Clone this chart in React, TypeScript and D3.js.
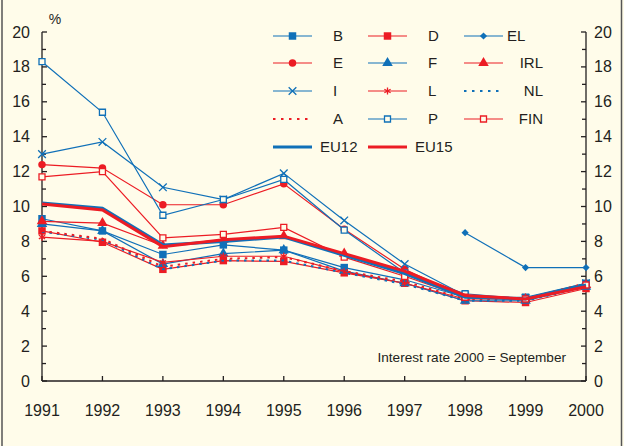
import React, { useRef, useEffect } from 'react';
import * as d3 from 'd3';

const years = ['1991', '1992', '1993', '1994', '1995', '1996', '1997', '1998', '1999', '2000'];
const yTicks = [0, 2, 4, 6, 8, 10, 12, 14, 16, 18, 20];

const B = [9.3, 8.6, 7.25, 7.8, 7.5, 6.5, 5.8, 4.8, 4.8, 5.6];
const D = [8.6, 7.95, 6.4, 6.9, 6.85, 6.2, 5.6, 4.6, 4.5, 5.3];
const EL = [null, null, null, null, null, null, null, 8.5, 6.5, 6.5];
const E = [12.4, 12.2, 10.1, 10.1, 11.3, 8.7, 6.4, 4.8, 4.7, 5.5];
const F = [9.0, 8.6, 6.7, 7.3, 7.5, 6.3, 5.6, 4.6, 4.6, 5.4];
const IRL = [9.15, 9.05, 7.75, 8.1, 8.3, 7.3, 6.3, 4.8, 4.7, 5.5];
const I = [13.0, 13.7, 11.1, 10.4, 11.9, 9.2, 6.7, 4.9, 4.75, 5.6];
const L = [8.25, 8.0, 6.8, 7.15, 7.15, 6.25, 5.6, 4.7, 4.7, 5.5];
const NL = [8.55, 8.1, 6.4, 6.9, 6.9, 6.2, 5.55, 4.6, 4.6, 5.4];
const A = [8.6, 8.15, 6.55, 7.0, 7.1, 6.3, 5.7, 4.7, 4.7, 5.6];
const P = [18.3, 15.4, 9.5, 10.4, 11.55, 8.65, 6.2, 5.0, 4.7, 5.5];
const FIN = [11.7, 12.0, 8.2, 8.4, 8.8, 7.1, 6.0, 4.8, 4.7, 5.5];
const EU12 = [10.2, 9.9, 7.8, 8.0, 8.25, 7.2, 6.15, 4.8, 4.7, 5.5];
const EU15 = [10.15, 9.8, 7.7, 8.1, 8.3, 7.3, 6.3, 4.9, 4.7, 5.4];

const BLUE = '#1070b8';
const RED = '#ec1c24';
const BG = '#fffcea';
const INK = '#231f20';

type Series = { name: string; values: (number | null)[]; color: string; marker?: string; dash?: boolean; thick?: boolean };

const series: Series[] = [
  { name: 'B', values: B, color: BLUE, marker: 'square' },
  { name: 'D', values: D, color: RED, marker: 'square' },
  { name: 'EL', values: EL, color: BLUE, marker: 'diamond' },
  { name: 'E', values: E, color: RED, marker: 'circle' },
  { name: 'F', values: F, color: BLUE, marker: 'triangle' },
  { name: 'IRL', values: IRL, color: RED, marker: 'triangle' },
  { name: 'I', values: I, color: BLUE, marker: 'x' },
  { name: 'L', values: L, color: RED, marker: 'asterisk' },
  { name: 'NL', values: NL, color: BLUE, dash: true },
  { name: 'A', values: A, color: RED, dash: true },
  { name: 'P', values: P, color: BLUE, marker: 'open' },
  { name: 'FIN', values: FIN, color: RED, marker: 'open' },
  { name: 'EU12', values: EU12, color: BLUE, thick: true },
  { name: 'EU15', values: EU15, color: RED, thick: true },
];

const symbolFor = (m: string) => {
  switch (m) {
    case 'square': return d3.symbol(d3.symbolSquare, 56);
    case 'diamond': return d3.symbol(d3.symbolSquare, 26);
    case 'circle': return d3.symbol(d3.symbolCircle, 44);
    case 'triangle': return d3.symbol(d3.symbolTriangle, 48);
    case 'x': return d3.symbol(d3.symbolTimes, 40);
    case 'asterisk': return d3.symbol(d3.symbolAsterisk, 36);
    default: return d3.symbol(d3.symbolSquare, 36);
  }
};

const drawMarker = (g: any, m: string, color: string, x: number, y: number) => {
  const stroked = m === 'x' || m === 'asterisk' || m === 'open';
  g.append('path')
    .attr('d', symbolFor(m)())
    .attr('transform', `translate(${x},${y})` + (m === 'diamond' ? ' rotate(45)' : ''))
    .attr('fill', m === 'open' ? BG : stroked ? 'none' : color)
    .attr('stroke', stroked ? color : 'none')
    .attr('stroke-width', 1.3);
};

const App = () => {
  const svgRef = useRef<SVGSVGElement>(null);

  useEffect(() => {
    const width = 624;
    const height = 446;
    const svg = d3.select(svgRef.current);
    svg.selectAll('*').remove();
    svg.attr('width', width).attr('height', height);

    svg.append('rect').attr('width', width).attr('height', height).attr('fill', BG);
    svg.append('line').attr('x1', 2).attr('x2', 2).attr('y1', 0).attr('y2', height).attr('stroke', '#555').attr('stroke-width', 1.5);
    svg.append('line').attr('x1', 621.5).attr('x2', 621.5).attr('y1', 0).attr('y2', height).attr('stroke', '#555').attr('stroke-width', 1.5);

    const x = d3.scalePoint().domain(years).range([42, 586]);
    const y = d3.scaleLinear().domain([0, 20]).range([381, 32]);
    const font = '"Liberation Sans", Arial, sans-serif';

    // axes
    const ax = svg.append('g').attr('stroke', INK).attr('stroke-width', 1.3);
    ax.append('line').attr('x1', 42).attr('x2', 42).attr('y1', y(20)).attr('y2', y(0));
    ax.append('line').attr('x1', 586).attr('x2', 586).attr('y1', y(20)).attr('y2', y(0));
    ax.append('line').attr('x1', 42).attr('x2', 586).attr('y1', y(0)).attr('y2', y(0));
    d3.range(0, 21).forEach(v => {
      const len = v % 2 === 0 ? 5 : 4;
      ax.append('line').attr('x1', 42).attr('x2', 42 + len).attr('y1', y(v)).attr('y2', y(v));
      ax.append('line').attr('x1', 586).attr('x2', 586 - len).attr('y1', y(v)).attr('y2', y(v));
    });
    years.forEach(yr => {
      ax.append('line').attr('x1', x(yr)!).attr('x2', x(yr)!).attr('y1', y(0)).attr('y2', y(0) - 5);
    });

    const txt = svg.append('g').attr('font-family', font).attr('fill', INK).attr('font-size', 16);
    yTicks.forEach(v => {
      txt.append('text').attr('x', 30).attr('y', y(v) + 5.5).attr('text-anchor', 'end').text(v);
      txt.append('text').attr('x', 594).attr('y', y(v) + 5.5).attr('text-anchor', 'start').text(v);
    });
    years.forEach(yr => {
      txt.append('text').attr('x', x(yr)!).attr('y', 416).attr('text-anchor', 'middle').text(yr);
    });
    txt.append('text').attr('x', 55).attr('y', 24).attr('text-anchor', 'middle').attr('font-size', 14).text('%');
    txt.append('text').attr('x', 566).attr('y', 362).attr('text-anchor', 'end').attr('font-size', 13.6).text('Interest rate 2000 = September');

    // lines
    const plot = svg.append('g');
    series.forEach(s => {
      const line = d3.line<number | null>()
        .defined(v => v != null)
        .x((_, i) => x(years[i])!)
        .y(v => y(v as number));
      plot.append('path')
        .attr('d', line(s.values))
        .attr('fill', 'none')
        .attr('stroke', s.color)
        .attr('stroke-width', s.thick ? 3 : s.dash ? 2 : 1.2)
        .attr('stroke-dasharray', s.dash ? '2.5,5' : null);
      if (s.marker) {
        s.values.forEach((v, i) => {
          if (v == null) return;
          drawMarker(plot, s.marker!, s.color, x(years[i])!, y(v));
        });
      }
    });

    // legend
    const colX = [273, 368, 464];
    const rowY = [36, 63, 91, 119, 147];
    const lg = svg.append('g');
    series.forEach((s, i) => {
      const col = s.thick ? i - 12 : i % 3;
      const row = s.thick ? 4 : Math.floor(i / 3);
      const x0 = colX[col];
      const yy = rowY[row];
      lg.append('line').attr('x1', x0).attr('x2', x0 + 39).attr('y1', yy).attr('y2', yy)
        .attr('stroke', s.color)
        .attr('stroke-width', s.thick ? 3 : s.dash ? 2 : 1.2)
        .attr('stroke-dasharray', s.dash ? '2.5,5.5' : null);
      if (s.marker) drawMarker(lg, s.marker, s.color, x0 + 19.5, yy);
      const t = lg.append('text').attr('font-family', font).attr('font-size', 15).attr('fill', INK).attr('y', yy + 5).text(s.name);
      if (s.thick) t.attr('x', x0 + 47);
      else if (col < 2) t.attr('x', x0 + 60);
      else if (s.name === 'EL') t.attr('x', 507);
      else t.attr('x', 543).attr('text-anchor', 'end');
    });
  }, []);

  return <svg ref={svgRef} style={{ position: 'absolute', left: 0, top: 0 }}></svg>;
};

export default App;
